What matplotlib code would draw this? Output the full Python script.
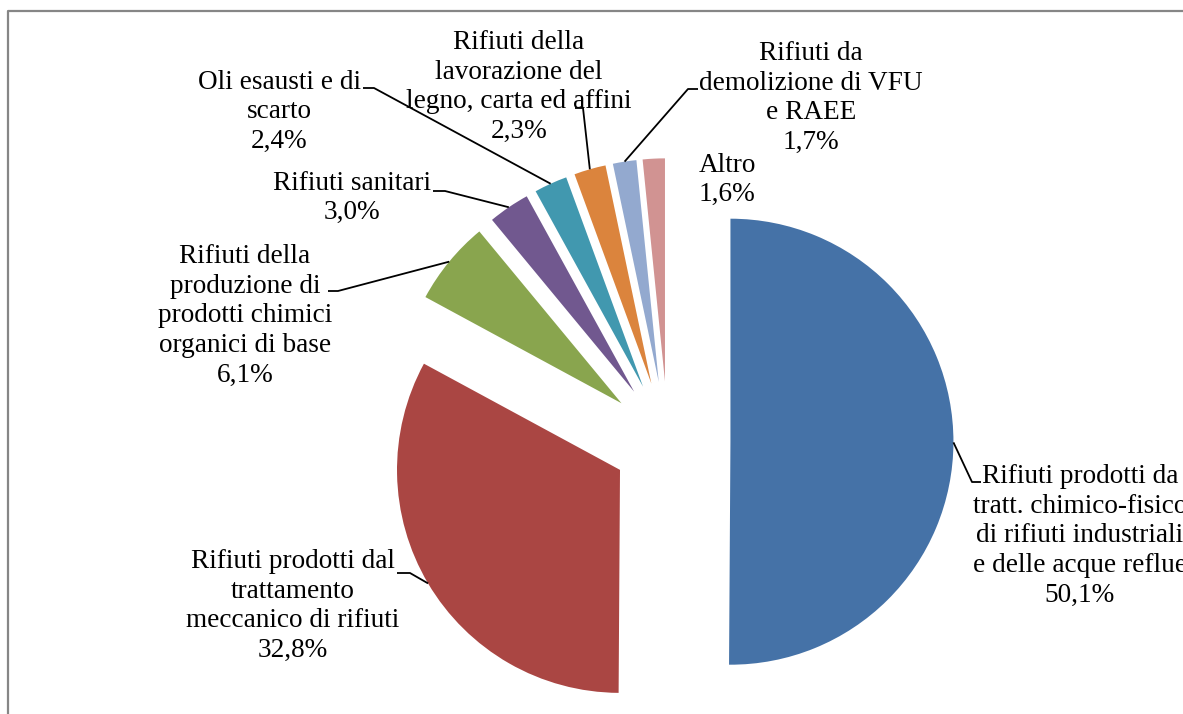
import math
import matplotlib
matplotlib.use("Agg")
import matplotlib.pyplot as plt

plt.rcParams["font.family"] = ["Liberation Serif", "DejaVu Serif"]

labels = [
    "Rifiuti prodotti da\ntratt. chimico-fisico\ndi rifiuti industriali\ne delle acque reflue",
    "Rifiuti prodotti dal\ntrattamento\nmeccanico di rifiuti",
    "Rifiuti della\nproduzione di\nprodotti chimici\norganici di base",
    "Rifiuti sanitari",
    "Oli esausti e di\nscarto",
    "Rifiuti della\nlavorazione del\nlegno, carta ed affini",
    "Rifiuti da\ndemolizione di VFU\ne RAEE",
    "Altro",
]
values = [50.1, 32.8, 6.1, 3.0, 2.4, 2.3, 1.7, 1.6]
colors = ["#4572A7", "#AA4643", "#89A54E", "#71588F",
          "#4198AF", "#DB843D", "#93A9CF", "#D19392"]
explode = [0.28, 0.25, 0.27, 0.27, 0.27, 0.27, 0.27, 0.27]

# layout in image pixels (origin top-left)
W, H = 1183, 714
CX, CY, R = 668, 441.5, 223
label_pos = [(1080, 536), (293, 606), (245, 316), (352, 198),
             (279, 112), (519, 87), (811, 98), (727, 180)]
# leader: (text end x, elbow x, elbow y); None = no leader
leaders = [(981, 972, 482), (397, 410, 573), (328, 338, 291), (433, 445, 191),
           (363, 374, 88), (575, 583, 108), (698, 688, 89), None]


def px(x, y):
    return (x - CX) / R, (H - y - (H - CY)) / R


fig = plt.figure(figsize=(W / 100, H / 100), dpi=100)
ax = fig.add_axes([0, 0, 1, 1])

wedges, _ = ax.pie(values, colors=colors, explode=explode, startangle=90,
                   counterclock=False, radius=1, center=(0, 0),
                   wedgeprops=dict(linewidth=0))

x0, y0 = px(0, H)
x1, y1 = px(W, 0)
ax.set_xlim(x0, x1)
ax.set_ylim(y0, y1)
ax.set_aspect("auto")
ax.axis("off")

for w, lab, val, pos, ld in zip(wedges, labels, values, label_pos, leaders):
    txt = lab + "\n" + f"{val:.1f}".replace(".", ",") + "%"
    tx, ty = px(*pos)
    ax.text(tx, ty, txt, ha="center", va="center", multialignment="center",
            fontsize=19.6, linespacing=1.25, color="black")
    if ld is None:
        continue
    th = math.radians((w.theta1 + w.theta2) / 2)
    ex = w.center[0] + w.r * math.cos(th)
    ey = w.center[1] + w.r * math.sin(th)
    ax_, ay_ = px(ld[0], ld[2])
    bx_, by_ = px(ld[1], ld[2])
    ax.plot([ax_, bx_, ex], [ay_, by_, ey], color="black", lw=1.3,
            solid_capstyle="butt")

# chart area border (partly cropped in the original)
bx = [px(8, H)[0], px(8, 11)[0], px(W + 5, 11)[0]]
by = [px(8, H + 5)[1], px(8, 11)[1], px(W + 5, 11)[1]]
ax.plot(bx, by, color="#868686", lw=1.6, clip_on=False)

fig.savefig("out.png", dpi=100)
